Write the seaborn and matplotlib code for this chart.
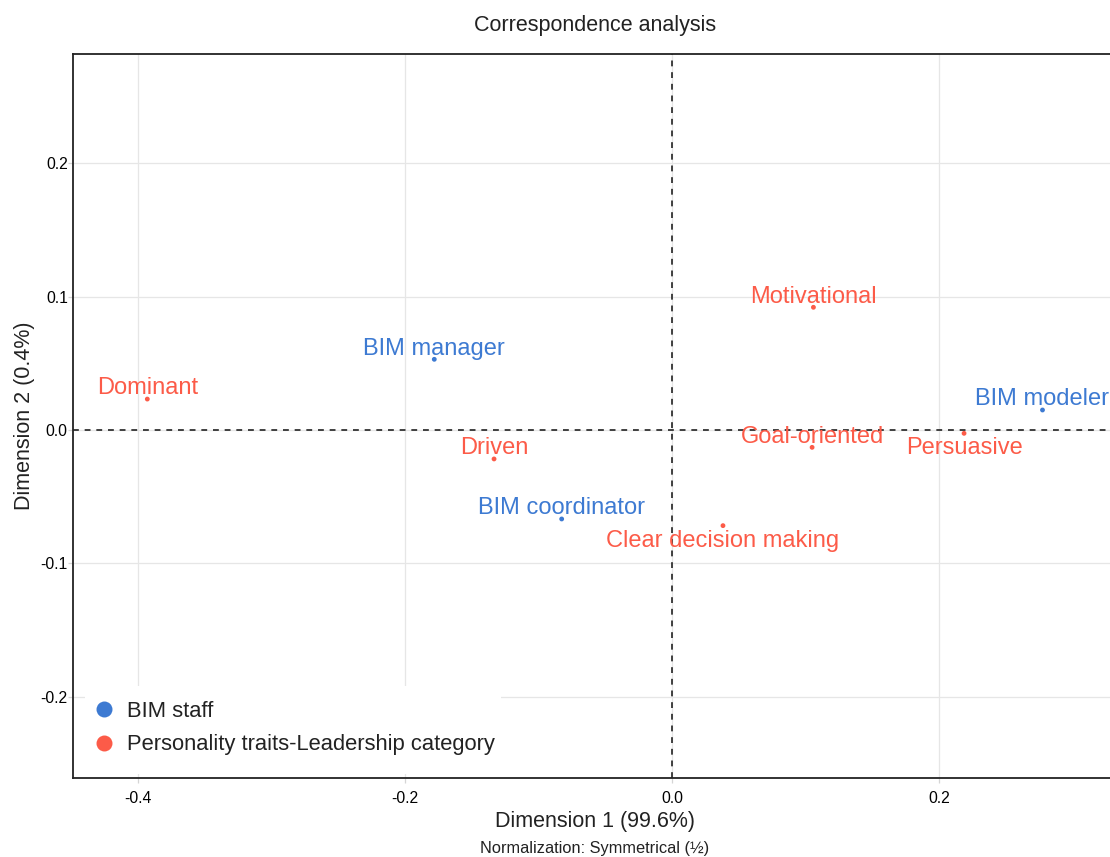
import matplotlib
matplotlib.use("Agg")
import matplotlib.pyplot as plt
import seaborn as sns
import pandas as pd
from matplotlib.lines import Line2D
from matplotlib.patches import Rectangle

# ---- data ----
labels = ["BIM manager", "BIM coordinator", "BIM modeler",
          "Dominant", "Driven", "Clear decision making",
          "Motivational", "Goal-oriented", "Persuasive"]
groups = ["BIM staff"] * 3 + ["Personality traits-Leadership category"] * 6
dim1 = [-0.1782, -0.0827, 0.2777, -0.3933, -0.1334, 0.0382, 0.1060, 0.1050, 0.2189]
dim2 = [0.0530, -0.0667, 0.0150, 0.0232, -0.0217, -0.0717, 0.0920, -0.0130, -0.0025]
label_above = [True, True, True, True, True, False, True, True, False]
x_ticks = [-0.4, -0.2, 0.0, 0.2]
y_ticks = [-0.2, -0.1, 0.0, 0.1, 0.2]
legend_names = ["BIM staff", "Personality traits-Leadership category"]
colors = {"BIM staff": "#3D7AD2", "Personality traits-Leadership category": "#FC5B48"}

df = pd.DataFrame({"label": labels, "group": groups, "Dim1": dim1, "Dim2": dim2})

sns.set_theme(style="white")
plt.rcParams["font.family"] = ["Liberation Sans", "DejaVu Sans"]

W, H = 1110, 857
fig = plt.figure(figsize=(W / 100, H / 100), dpi=100)
ax = fig.add_axes([73 / W, 1 - 778 / H, 1 - 73 / W, (778 - 54) / H])

ax.set_xlim(-0.449, 0.3283)
ax.set_ylim(-0.2609, 0.2819)
ax.set_xticks(x_ticks)
ax.set_yticks(y_ticks)
ax.set_xticklabels([f"{v:.1f}" for v in x_ticks])
ax.set_yticklabels([f"{v:.1f}" for v in y_ticks])
ax.grid(True, color="#E6E6E6", linewidth=0.9)
ax.set_axisbelow(True)

ax.axhline(0, color="#222222", linestyle=(0, (3.5, 3.5)), linewidth=1.2, zorder=1)
ax.axvline(0, color="#222222", linestyle=(0, (3.5, 3.5)), linewidth=1.2, zorder=1)

sns.scatterplot(data=df, x="Dim1", y="Dim2", hue="group", palette=colors,
                s=12, edgecolor="none", legend=False, ax=ax, zorder=3)

for lab, g, x, y, up in zip(labels, groups, dim1, dim2, label_above):
    ax.annotate(lab, (x, y), xytext=(0, 7.7 if up else -10.9), textcoords="offset points",
                ha="center", va="center", fontsize=17, color=colors[g], zorder=4,
                annotation_clip=False)

for side in ["left", "bottom", "top"]:
    ax.spines[side].set_visible(True)
    ax.spines[side].set_color("#222222")
    ax.spines[side].set_linewidth(1.3)
ax.spines["right"].set_visible(False)

ax.tick_params(axis="both", which="both", length=3.5, color="#D5D5D5", width=0.9,
               labelsize=11.3, labelcolor="black", left=True, bottom=True)
ax.tick_params(axis="x", pad=6.1)
ax.tick_params(axis="y", pad=0.2)

ax.set_xlabel("")
ax.set_ylabel("")
fig.text(595 / W, 1 - 822 / H, "Dimension 1 (99.6%)", ha="center", va="center",
         fontsize=15.5, color="#222222")
fig.text(595 / W, 1 - 849 / H, "Normalization: Symmetrical (\u00bd)", ha="center",
         va="center", fontsize=11.8, color="#222222")
fig.text(25 / W, 1 - 416 / H, "Dimension 2 (0.4%)", ha="center", va="center",
         rotation=90, fontsize=15.5, color="#222222")
fig.text(595 / W, 1 - 26 / H, "Correspondence analysis", ha="center", va="center",
         fontsize=15.5, color="#222222")

# white legend background box
ax.add_patch(Rectangle((85 / W, 1 - 774 / H), (501 - 85) / W, (774 - 686) / H,
                       transform=fig.transFigure, facecolor="white", edgecolor="none",
                       zorder=2))

handles = [Line2D([0], [0], marker="o", linestyle="", markersize=11.5,
                  markerfacecolor=colors[n], markeredgecolor="none") for n in legend_names]
leg = ax.legend(handles, legend_names, loc="upper left",
                bbox_to_anchor=(93 / W, 1 - 701 / H), bbox_transform=fig.transFigure,
                fontsize=15.85, frameon=False, handletextpad=0.56, labelspacing=0.56,
                borderpad=0.0, borderaxespad=0.0, handlelength=1.0)
leg.set_zorder(5)
for t in leg.get_texts():
    t.set_color("#222222")

fig.savefig("out.png", dpi=100)
